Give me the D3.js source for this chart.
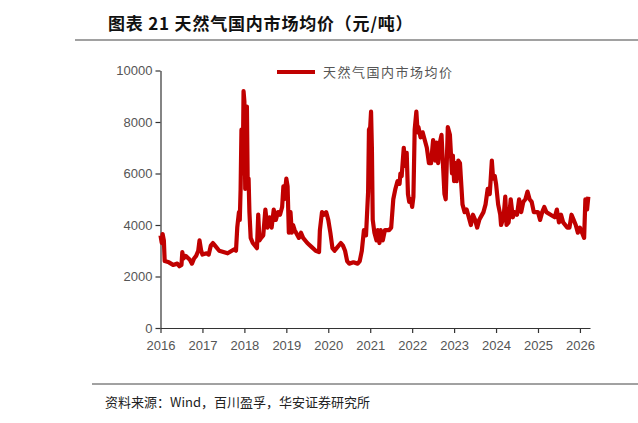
<!DOCTYPE html>
<html><head><meta charset="utf-8">
<script src="https://cdn.jsdelivr.net/npm/d3@7"></script>
<style>body{margin:0;background:#fff}</style>
</head><body>
<script>
// data: [decimal year, yuan/ton]
const years = [2016,2017,2018,2019,2020,2021,2022,2023,2024,2025,2026];
const yTicks = [0,2000,4000,6000,8000,10000];
const seriesName = "天然气国内市场均价";
const gasPrice = [
[2016.0,3600],[2016.03,3300],[2016.05,3650],[2016.08,3400],[2016.1,2600],[2016.2,2550],[2016.3,2450],[2016.4,2500],[2016.45,2400],[2016.5,2450],[2016.52,2950],[2016.55,2700],[2016.6,2800],[2016.7,2650],[2016.75,2500],[2016.8,2700],[2016.85,2800],[2016.9,3000],[2016.93,3400],[2016.97,3000],
[2017.0,2850],[2017.1,2900],[2017.15,2850],[2017.2,3200],[2017.25,3300],[2017.3,3200],[2017.4,3000],[2017.5,2950],[2017.6,2900],[2017.7,3000],[2017.75,3050],[2017.8,3000],[2017.83,3900],[2017.87,4500],[2017.89,4200],[2017.91,5400],[2017.93,7700],[2017.96,6000],[2017.98,9200],
[2018.0,8800],[2018.02,5400],[2018.04,6000],[2018.06,8600],[2018.08,5500],[2018.1,5800],[2018.12,4500],[2018.15,3500],[2018.2,3300],[2018.3,3100],[2018.33,4400],[2018.36,3400],[2018.4,3500],[2018.45,3600],[2018.5,4600],[2018.55,3900],[2018.6,4300],[2018.65,3900],[2018.7,4600],[2018.75,4200],[2018.8,4500],[2018.85,4400],[2018.9,4700],[2018.93,5500],[2018.95,5000],
[2019.0,5800],[2019.03,5500],[2019.06,3700],[2019.1,4500],[2019.13,3700],[2019.16,4000],[2019.2,3800],[2019.3,3500],[2019.35,3700],[2019.4,3500],[2019.5,3300],[2019.6,3150],[2019.7,3000],[2019.78,2950],[2019.8,3800],[2019.85,4500],[2019.9,4400],[2019.95,4500],
[2020.0,4200],[2020.05,3700],[2020.1,3100],[2020.15,3000],[2020.2,3100],[2020.3,3300],[2020.35,3200],[2020.4,3000],[2020.45,2600],[2020.5,2500],[2020.6,2550],[2020.7,2500],[2020.75,2600],[2020.8,3000],[2020.85,3800],[2020.9,3600],[2020.95,5300],[2020.97,7700],
[2021.0,7800],[2021.02,8400],[2021.04,7000],[2021.06,4200],[2021.1,3700],[2021.15,3400],[2021.18,3800],[2021.22,3300],[2021.25,3800],[2021.3,3400],[2021.35,3800],[2021.45,3800],[2021.5,3900],[2021.55,5000],[2021.6,5400],[2021.65,5700],[2021.7,5600],[2021.72,6000],[2021.75,5900],[2021.8,7000],[2021.83,6300],[2021.87,6800],[2021.9,5200],[2021.93,4900],[2021.97,5000],
[2022.0,4700],[2022.03,5100],[2022.06,7700],[2022.1,8400],[2022.13,7600],[2022.15,7800],[2022.2,7400],[2022.25,7600],[2022.3,7300],[2022.35,7000],[2022.4,6400],[2022.45,6400],[2022.5,7300],[2022.55,6500],[2022.58,7200],[2022.62,6400],[2022.66,7200],[2022.7,7500],[2022.73,6500],[2022.77,5200],[2022.8,5000],[2022.85,7800],[2022.9,7500],[2022.95,6000],[2022.97,6700],
[2023.0,5700],[2023.03,6400],[2023.06,5700],[2023.1,6500],[2023.14,6400],[2023.2,4800],[2023.25,4500],[2023.3,4600],[2023.35,4300],[2023.4,4000],[2023.45,4400],[2023.5,4200],[2023.55,3900],[2023.6,4200],[2023.7,4500],[2023.75,4800],[2023.8,5400],[2023.85,5200],[2023.9,6500],[2023.93,5800],[2023.97,5900],
[2024.0,5600],[2024.05,4800],[2024.1,4400],[2024.12,4000],[2024.18,4300],[2024.22,5100],[2024.25,4000],[2024.3,4100],[2024.35,5000],[2024.4,4300],[2024.45,4500],[2024.5,4400],[2024.55,5000],[2024.6,4500],[2024.65,4900],[2024.7,5000],[2024.75,5300],[2024.8,5000],[2024.85,4900],[2024.9,4500],
[2025.0,4500],[2025.05,4200],[2025.1,4500],[2025.15,4700],[2025.2,4500],[2025.3,4400],[2025.4,4300],[2025.45,4600],[2025.5,4100],[2025.55,4400],[2025.6,4100],[2025.7,3900],[2025.75,3900],[2025.8,4400],[2025.85,4200],[2025.9,4000],[2025.95,3700],
[2026.0,3900],[2026.05,3700],[2026.1,3500],[2026.13,5000],[2026.17,4600],[2026.2,5100]
];

const W = 638, H = 423;
const svg = d3.select("body").append("svg").attr("width", W).attr("height", H)
  .style("font-family", "'Noto Sans CJK SC', sans-serif");

// header / footer
svg.append("text").attr("x", 108).attr("y", 30).attr("font-size", 17).attr("font-weight", "bold")
  .attr("fill", "#111").attr("letter-spacing", 0.8).text("图表 21 天然气国内市场均价（元/吨）");
svg.append("line").attr("x1", 75).attr("x2", W).attr("y1", 40).attr("y2", 40).attr("stroke", "#444").attr("stroke-width", 1.2);
svg.append("line").attr("x1", 92).attr("x2", W).attr("y1", 384).attr("y2", 384).attr("stroke", "#444").attr("stroke-width", 1);
svg.append("text").attr("x", 105).attr("y", 407).attr("font-size", 13).attr("fill", "#222")
  .text("资料来源：Wind，百川盈孚，华安证券研究所");

const x = d3.scaleLinear().domain([2016, 2026.24]).range([160.5, 590]);
const y = d3.scaleLinear().domain([0, 10000]).range([328, 70.5]);

const g = svg.append("g").attr("font-family", "Roboto, 'Liberation Sans', sans-serif");
const ax = g.append("g").attr("transform", "translate(0,328)")
  .call(d3.axisBottom(x).tickValues(years).tickFormat(d3.format("d")).tickSize(5).tickSizeOuter(0));
const ay = g.append("g").attr("transform", "translate(160.5,0)")
  .call(d3.axisLeft(y).tickValues(yTicks).tickFormat(d3.format("d")).tickSize(5).tickSizeOuter(0));
[ax, ay].forEach(a => {
  a.selectAll("path,line").attr("stroke", "#333").attr("stroke-width", 1.2);
  a.selectAll("text").attr("fill", "#555").attr("font-size", 13);
});
ax.selectAll("text").attr("dy", "1.1em");

g.append("path").datum(gasPrice)
  .attr("fill", "none").attr("stroke", "#c00000").attr("stroke-width", 4.2).attr("stroke-linejoin", "round")
  .attr("d", d3.line().x(d => x(d[0])).y(d => y(d[1])));

// legend
svg.append("line").attr("x1", 277).attr("x2", 315).attr("y1", 72).attr("y2", 72)
  .attr("stroke", "#c00000").attr("stroke-width", 4);
svg.append("text").attr("x", 323).attr("y", 77).attr("font-size", 13).attr("fill", "#555")
  .attr("letter-spacing", 1.5).text(seriesName);
</script>
</body></html>
